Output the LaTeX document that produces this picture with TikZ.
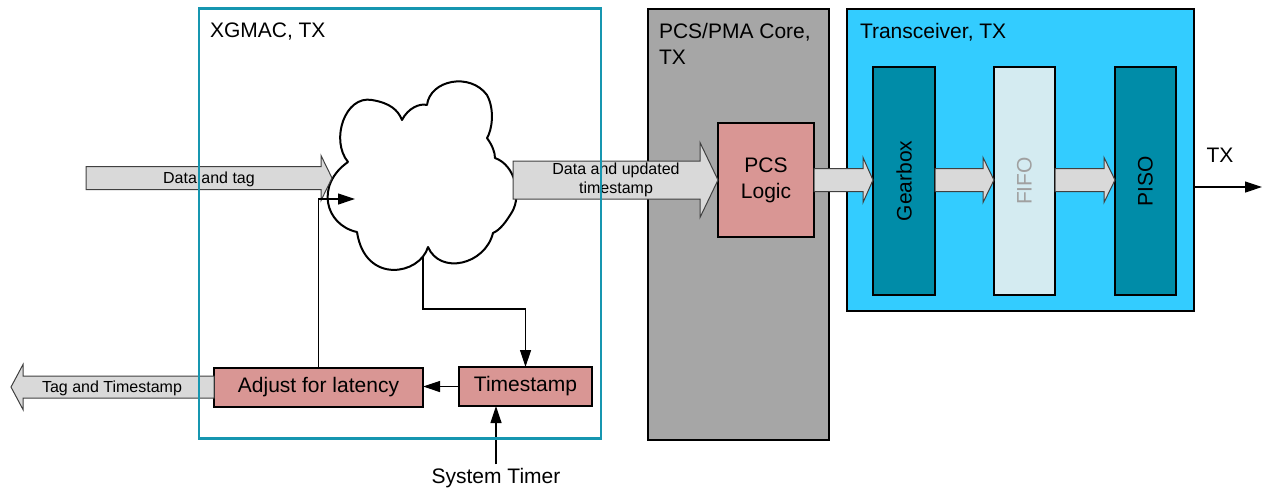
\documentclass[tikz,border=0pt]{standalone}
\usepackage{fontspec}
\usepackage{graphicx}
\setmainfont{Liberation Sans}
\usetikzlibrary{arrows.meta,calc}
\definecolor{xteal}{RGB}{22,150,176}
\definecolor{pcsgray}{RGB}{166,166,166}
\definecolor{tcyan}{RGB}{51,204,255}
\definecolor{dteal}{RGB}{0,140,168}
\definecolor{fifobg}{RGB}{212,235,241}
\definecolor{fifotext}{RGB}{160,160,160}
\definecolor{pinkbox}{RGB}{217,150,148}
\definecolor{arrowfill}{RGB}{217,217,217}
\definecolor{arrowline}{RGB}{64,64,64}
\newcommand\fatR[5]{%
  \path[fatarrow] let \p1=#1, \p2=#2 in
    (\x1,\y2+#3) -- (\x2-#5,\y2+#3) -- (\x2-#5,\y2+#4) -- (\x2,\y2)
    -- (\x2-#5,\y2-#4) -- (\x2-#5,\y2-#3) -- (\x1,\y2-#3) -- cycle;}
\newcommand\fatL[5]{%
  \path[fatarrow] let \p1=#1, \p2=#2 in
    (\x1,\y2+#3) -- (\x2+#5,\y2+#3) -- (\x2+#5,\y2+#4) -- (\x2,\y2)
    -- (\x2+#5,\y2-#4) -- (\x2+#5,\y2-#3) -- (\x1,\y2-#3) -- cycle;}
\begin{document}
\begin{tikzpicture}[x=1pt,y=-1pt,
  box/.style={rectangle,inner sep=0pt,outer sep=0pt,draw=black,line width=2pt},
  big/.style={font=\fontsize{21}{26}\selectfont},
  small/.style={font=\fontsize{16}{19}\selectfont},
  txt/.style={inner sep=0pt,outer sep=0pt},
  fatarrow/.style={draw=arrowline,fill=arrowfill,line width=1pt,line join=miter},
  conn/.style={draw=black,line width=1.2pt,-{Triangle[length=17pt,width=11pt]}},
  line/.style={draw=black,line width=1.2pt}]
\useasboundingbox (0,0) rectangle (1263,488);

% PCS/PMA core
\node[box,fill=pcsgray,minimum width=181,minimum height=431] (pcsc) at (738.5,224.5) {};
\node[txt,big,anchor=base west] (pcst1) at (659,38) {PCS/PMA Core,};
\node[txt,big,anchor=base west] (pcst2) at (659,64) {TX};
\node[box,fill=pinkbox,big,align=center,minimum width=96,minimum height=114] (pcs) at (766,180) {PCS\\Logic};

% Transceiver
\node[box,fill=tcyan,minimum width=347,minimum height=302] (tr) at (1020.5,160) {};
\node[txt,big,anchor=base west] (trt) at (860,38) {Transceiver, TX};
\node[box,fill=dteal,big,minimum width=62,minimum height=228] (gear) at (904,181) {\rotatebox{90}{Gearbox}};
\node[box,fill=fifobg,big,text=fifotext,minimum width=61,minimum height=228] (fifo) at (1024.5,181) {\rotatebox{90}{FIFO}};
\node[box,fill=dteal,big,minimum width=61,minimum height=228] (piso) at (1145.5,181) {\rotatebox{90}{PISO}};

% TX output
\coordinate (txe) at (1262,187);
\draw[conn] (tr.east |- txe) -- (txe);
\node[txt,big,anchor=base] (txl) at (1220,162) {TX};

% cloud
\node[minimum width=190,minimum height=190,inner sep=0pt] (cloud) at (423,178) {};
\coordinate (cb) at (423,256.5);
\coordinate (bend) at (525.5,309);
\node[box,fill=pinkbox,big,minimum width=133,minimum height=39] (ts) at (525.5,386.5) {Timestamp};
\node[box,fill=pinkbox,big,minimum width=209,minimum height=39] (adj) at (318.5,387.5) {Adjust for latency};
\draw[conn] (cb) |- (bend) -- (ts.north);
\draw[line width=2pt,fill=white,line join=round]
  (348,162) .. controls (330,140) and (345,95) .. (372,100)
  .. controls (390,103) and (398,110) .. (402,120)
  .. controls (408,108) and (420,103) .. (427,105)
  .. controls (430,80) and (470,72) .. (487,95)
  .. controls (495,110) and (492,130) .. (487,138)
  .. controls (492,145) and (495,152) .. (495,158)
  .. controls (515,165) and (522,195) .. (512,212)
  .. controls (506,222) and (500,230) .. (493,233)
  .. controls (485,265) and (440,275) .. (428,247)
  .. controls (420,275) and (365,285) .. (357,232)
  .. controls (325,225) and (315,185) .. cycle;

% fat arrows
\coordinate (dt0) at (86,178.5);
\coordinate (dt1) at (332,178);
\fatR{(dt0)}{(dt1)}{11.5pt}{22.5pt}{11pt}
\node[txt,small,anchor=base] (dtl) at (209,183.5) {Data and tag};

\coordinate (du0) at (513,179);
\fatR{(du0)}{(pcs.west)}{19pt}{37.5pt}{18pt}
\node[txt,small,anchor=base] (dul1) at (616,174) {Data and updated};
\node[txt,small,anchor=base] (dul2) at (616,193) {timestamp};

\fatR{(pcs.east)}{($(gear.west)+(0,-1)$)}{11.5pt}{22.5pt}{10pt}
\fatR{(gear.east)}{($(fifo.west)+(0,-1)$)}{11.5pt}{22.5pt}{11pt}
\fatR{(fifo.east)}{($(piso.west)+(0,-1)$)}{11.5pt}{22.5pt}{11pt}

\coordinate (tt1) at (11,387);
\fatL{(adj.west)}{(tt1)}{11pt}{22.5pt}{12pt}
\node[txt,small,anchor=base] (ttl) at (112,392.5) {Tag and Timestamp};

% feedback from adjust into cloud
\coordinate (fb) at (355,199);
\draw[conn] (adj.north) |- (fb);
\draw[conn] (ts.west) -- (ts.west -| adj.east);

% system timer
\node[txt,big,anchor=base] (st) at (496,483.5) {System Timer};
\draw[conn] ($(st.north)+(0,-4)$) -- (st.north |- ts.south);

% XGMAC box (border drawn on top of the fat arrows)
\node[rectangle,draw=xteal,line width=2.5pt,inner sep=0pt,minimum width=402,minimum height=430] (xg) at (400,223.5) {};
\node[txt,big,anchor=base west] (xgt) at (210,37) {XGMAC, TX};
\end{tikzpicture}
\end{document}
